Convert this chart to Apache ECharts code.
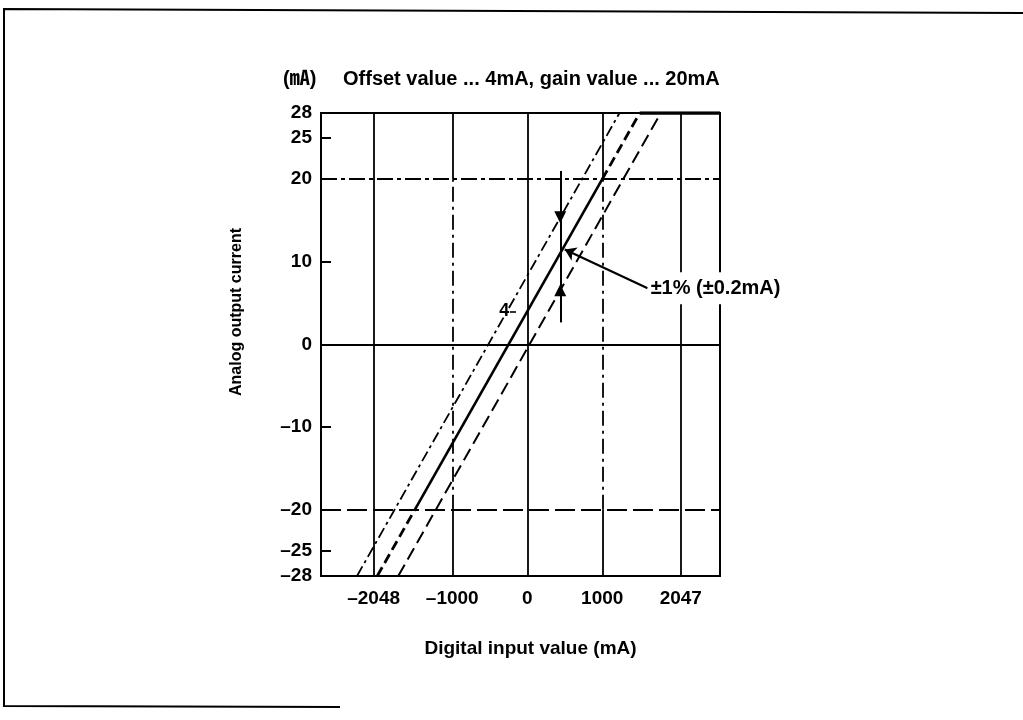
<!DOCTYPE html>
<html><head><meta charset="utf-8">
<script src="https://cdn.jsdelivr.net/npm/echarts@6/dist/echarts.min.js"></script>
<style>html,body{margin:0;padding:0;background:#fff}#c{width:1023px;height:720px}</style>
</head><body><div id="c"></div>
<script>
// ---- data ----
const xTickLabels = [-2048, -1000, 0, 1000, 2047];
const yTickLabels = [28, 25, 20, 10, 0, -10, -20, -25, -28];
const xRange = [-2750, 2570];
const yRange = [-28, 28];
const solidVLines = [-2048, 0, 2047];
const brokenVLines = [-1000, 1000];
const brokenBand = [-20, 20];
const hSolidLines = [0];
const hDashDotLines = [20];
const hDashedLines = [-20];
// nominal output: offset 4 mA at 0, gain 20 mA at 1000
const nominalLow = [[-2000, -28], [-1500, -20]];
const nominalMid = [[-1500, -20], [1000, 20]];
const nominalHigh = [[1000, 20], [1500, 28]];
const nominalSat = [[1500, 28], [2570, 28]];
const upperBound = [[-2270, -28], [1230, 28]];
const lowerBound = [[-1720, -28], [1780, 28]];
const offsetMark = [0, 4];
const offsetText = '4';
const offsetTick = [[-230, 4], [-150, 4]];
const errX = 440;
const errSpan = [21, 2.7];
const errUpperTip = 15.4;
const errLowerTip = 6.56;
const leaderFrom = [1605, 6.8];
const leaderTo = [500, 11.5];
const errText = '±1% (±0.2mA)';
const titleUnit = '(㎃)';
const titleText = 'Offset value ... 4mA, gain value ... 20mA';
const xName = 'Digital input value (mA)';
const yName = 'Analog output current';

// ---- chart ----
const FF = '"Liberation Sans", Arial, "Noto Sans CJK JP", sans-serif';
const fmt = v => String(v).replace('-', '\u2013');
const K = '#000';
const ls = (type, width) => ({type, width, color: K, opacity: 1});

const gridSegs = [];
solidVLines.forEach(x => gridSegs.push({coords: [[x, yRange[0]], [x, yRange[1]]], lineStyle: ls('solid', 1.8)}));
brokenVLines.forEach(x => {
  gridSegs.push({coords: [[x, yRange[0]], [x, brokenBand[0]]], lineStyle: ls('solid', 1.8)});
  gridSegs.push({coords: [[x, brokenBand[0]], [x, brokenBand[1]]], lineStyle: ls([15, 5, 3, 5], 1.8)});
  gridSegs.push({coords: [[x, brokenBand[1]], [x, yRange[1]]], lineStyle: ls('solid', 1.8)});
});
hSolidLines.forEach(y => gridSegs.push({coords: [[xRange[0], y], [xRange[1], y]], lineStyle: ls('solid', 1.8)}));
hDashDotLines.forEach(y => gridSegs.push({coords: [[xRange[0], y], [xRange[1], y]], lineStyle: ls([16, 4, 4, 4], 1.8)}));
hDashedLines.forEach(y => gridSegs.push({coords: [[xRange[0], y], [xRange[1], y]], lineStyle: ls([20, 6], 1.8)}));
gridSegs.push({coords: offsetTick, lineStyle: ls('solid', 1.6)});
gridSegs.push({coords: [[errX, errSpan[0]], [errX, errSpan[1]]], lineStyle: ls('solid', 2)});

const lineS = (data, width, type) => ({
  type: 'line', data, showSymbol: false, symbol: 'none', silent: true, z: 3,
  lineStyle: {color: K, width, type, opacity: 1}
});
const textStyle = (size) => ({fontFamily: FF, fontSize: size, fontWeight: 'bold', color: K, opacity: 1});

const chart = echarts.init(document.getElementById('c'));
chart.setOption({
  backgroundColor: '#fff',
  animation: false,
  title: [
    {text: titleUnit, left: 283, top: 69, padding: 0, textStyle: textStyle(20)},
    {text: titleText, left: 343, top: 69, padding: 0, textStyle: textStyle(20)}
  ],
  grid: {left: 321, right: 303, top: 113, bottom: 144, show: true, borderColor: K, borderWidth: 2, backgroundColor: 'transparent'},
  xAxis: {
    type: 'value', min: xRange[0], max: xRange[1],
    splitLine: {show: false}, axisTick: {show: false},
    axisLine: {show: true, onZero: false, lineStyle: {color: K, width: 2}},
    axisLabel: Object.assign({customValues: xTickLabels, formatter: fmt, margin: 13}, textStyle(19)),
    name: xName, nameLocation: 'middle', nameGap: 63,
    nameTextStyle: Object.assign({padding: [0, 0, 0, 20]}, textStyle(19))
  },
  yAxis: {
    type: 'value', min: yRange[0], max: yRange[1],
    splitLine: {show: false},
    axisLine: {show: true, onZero: false, lineStyle: {color: K, width: 2}},
    axisTick: {show: true, inside: true, length: 10, customValues: yTickLabels, lineStyle: {color: K, width: 2}},
    axisLabel: Object.assign({customValues: yTickLabels, formatter: fmt, margin: 9}, textStyle(19))
  },
  graphic: [
    {type: 'polyline', shape: {points: [[1023, 13], [4, 9], [4, 706], [340, 707]]}, style: {stroke: K, lineWidth: 2, fill: null}, silent: true},
    {type: 'text', x: 237, y: 312, rotation: Math.PI / 2,
     style: {text: yName, fontFamily: FF, fontSize: 16, fontWeight: 'bold', fill: K, align: 'center', verticalAlign: 'middle'}}
  ],
  series: [
    {type: 'lines', coordinateSystem: 'cartesian2d', polyline: false, silent: true, z: 2,
     lineStyle: {color: K, opacity: 1}, data: gridSegs},
    lineS(upperBound, 1.8, [11, 4, 3, 4]),
    lineS(lowerBound, 2, [13, 6]),
    lineS(nominalLow, 2.8, [10, 5]),
    lineS(nominalMid, 2.6, 'solid'),
    lineS(nominalHigh, 2.8, [10, 5]),
    lineS(nominalSat, 3.4, 'solid'),
    {type: 'lines', coordinateSystem: 'cartesian2d', silent: true, z: 4,
     symbol: ['none', 'triangle'], symbolSize: 12, lineStyle: {color: K, width: 2, opacity: 1},
     data: [{coords: [[errX, errSpan[0]], [errX, errUpperTip]]}, {coords: [[errX, errSpan[1]], [errX, errLowerTip]]}]},
    {type: 'lines', coordinateSystem: 'cartesian2d', silent: true, z: 4,
     symbol: ['none', 'arrow'], symbolSize: 11, lineStyle: {color: K, width: 2.2, opacity: 1},
     data: [{coords: [leaderFrom, leaderTo]}]},
    {type: 'scatter', data: [leaderFrom], symbol: 'circle', symbolSize: 0, itemStyle: {color: K, opacity: 1}, silent: true, z: 5,
     label: Object.assign({show: true, position: 'right', distance: 0, formatter: errText,
             backgroundColor: '#fff', padding: [6, 2, 6, 3]}, textStyle(20))},
    {type: 'scatter', data: [offsetMark], symbol: 'circle', symbolSize: 0, itemStyle: {color: K, opacity: 1}, silent: true, z: 5,
     label: Object.assign({show: true, position: 'left', distance: 18, formatter: offsetText}, textStyle(18))}
  ]
});
</script></body></html>
